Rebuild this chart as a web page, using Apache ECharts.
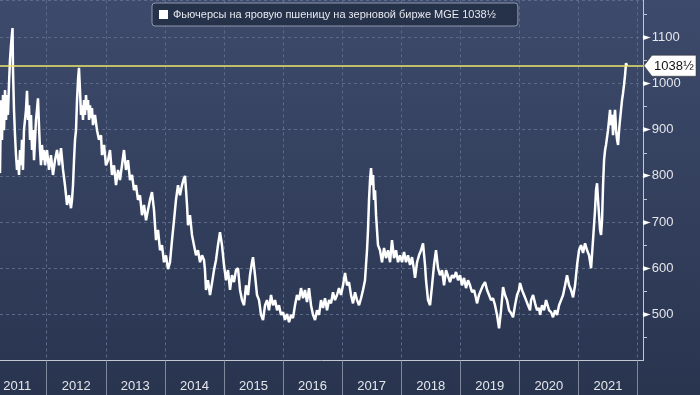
<!DOCTYPE html>
<html>
<head>
<meta charset="utf-8">
<script src="https://cdn.jsdelivr.net/npm/echarts@6/dist/echarts.min.js"></script>
<style>
html,body{margin:0;padding:0;background:#2a3652;}
#chart{width:700px;height:395px;}
</style>
</head>
<body>
<div id="chart"></div>
<script>
// Spring wheat futures (MGE), decimal year -> price (cents/bu)
const dates = [
 2011.209,2011.226,2011.243,2011.260,2011.277,2011.294,2011.311,2011.328,2011.344,2011.361,2011.378,2011.395,2011.421,2011.429,2011.446,2011.463,2011.480,2011.497,2011.514,2011.531,2011.548,2011.565,2011.581,2011.598,2011.615,2011.649,2011.666,2011.683,2011.700,2011.717,2011.734,2011.751,2011.768,2011.785,2011.802,2011.818,2011.835,2011.852,2011.869,2011.886,2011.903,2011.920,2011.937,2011.954,2011.971,
 2012.005,2012.039,2012.072,2012.106,2012.140,2012.174,2012.208,2012.242,2012.276,2012.309,2012.343,2012.377,2012.411,2012.428,2012.445,2012.462,2012.479,2012.496,2012.513,2012.530,2012.546,2012.563,2012.580,2012.597,2012.614,2012.631,2012.648,2012.665,2012.682,2012.699,2012.716,2012.733,2012.749,2012.766,2012.783,2012.817,2012.851,2012.885,2012.919,2012.936,2012.970,
 2013.003,2013.037,2013.071,2013.105,2013.139,2013.173,2013.207,2013.240,2013.274,2013.308,2013.342,2013.376,2013.410,2013.444,2013.477,2013.511,2013.545,2013.579,2013.613,2013.647,2013.681,2013.714,2013.748,2013.782,2013.816,2013.850,2013.884,2013.918,2013.951,2013.985,
 2014.019,2014.053,2014.087,2014.121,2014.155,2014.188,2014.222,2014.256,2014.290,2014.324,2014.341,2014.358,2014.375,2014.392,2014.425,2014.459,2014.493,2014.527,2014.561,2014.595,2014.629,2014.662,2014.679,2014.696,2014.730,2014.764,2014.798,2014.832,2014.866,2014.899,2014.933,2014.967,
 2015.001,2015.035,2015.069,2015.103,2015.136,2015.170,2015.204,2015.238,2015.272,2015.306,2015.340,2015.374,2015.408,2015.441,2015.475,2015.492,2015.526,2015.560,2015.594,2015.628,2015.662,2015.696,2015.729,2015.763,2015.797,2015.831,2015.865,2015.899,2015.932,2015.966,
 2016.000,2016.034,2016.068,2016.102,2016.136,2016.169,2016.203,2016.237,2016.271,2016.305,2016.339,2016.372,2016.406,2016.440,2016.474,2016.508,2016.542,2016.576,2016.610,2016.643,2016.677,2016.711,2016.745,2016.779,2016.813,2016.846,2016.880,2016.914,2016.948,2016.982,
 2017.016,2017.050,2017.084,2017.117,2017.151,2017.185,2017.219,2017.253,2017.287,2017.321,2017.354,2017.388,2017.405,2017.422,2017.439,2017.456,2017.473,2017.490,2017.507,2017.524,2017.541,2017.558,2017.575,2017.591,2017.608,2017.642,2017.676,2017.710,2017.744,2017.778,2017.812,2017.845,2017.879,2017.913,2017.947,2017.981,
 2018.015,2018.049,2018.082,2018.116,2018.150,2018.184,2018.218,2018.235,2018.269,2018.302,2018.336,2018.370,2018.404,2018.421,2018.455,2018.489,2018.523,2018.556,2018.590,2018.624,2018.658,2018.692,2018.726,2018.760,2018.793,2018.827,2018.861,2018.895,2018.929,2018.963,2018.997,
 2019.030,2019.064,2019.098,2019.132,2019.166,2019.200,2019.234,2019.267,2019.284,2019.318,2019.352,2019.386,2019.420,2019.454,2019.488,2019.521,2019.555,2019.589,2019.623,2019.657,2019.691,2019.725,2019.758,2019.792,2019.826,2019.860,2019.894,2019.928,2019.962,2019.995,
 2020.012,2020.046,2020.080,2020.114,2020.148,2020.182,2020.199,2020.233,2020.267,2020.300,2020.334,2020.351,2020.385,2020.419,2020.453,2020.470,2020.504,2020.538,2020.571,2020.605,2020.639,2020.673,2020.707,2020.741,2020.775,2020.808,2020.842,2020.876,2020.910,2020.944,2020.978,
 2021.011,2021.045,2021.079,2021.113,2021.147,2021.181,2021.215,2021.248,2021.282,2021.299,2021.316,2021.333,2021.350,2021.367,2021.384,2021.401,2021.418,2021.435,2021.452,2021.468,2021.485,2021.502,2021.519,2021.536,2021.553,2021.570,2021.587,2021.604,2021.621,2021.638,2021.655,2021.672,2021.689,2021.705,2021.722,2021.739,2021.756,2021.773,2021.790,2021.807,2021.824
];
const prices = [
 806,964,878,975,899,986,921,975,932,997,1051,1083,1120,1029,943,888,845,813,834,802,856,823,878,813,899,943,984,921,953,878,932,856,899,834,878,921,943,968,910,856,823,867,834,856,823,
 856,813,845,802,834,856,823,860,813,780,737,758,730,748,780,834,878,899,964,1008,1034,986,932,953,921,964,932,975,943,964,921,953,925,947,910,932,899,878,888,845,867,
 823,834,856,802,823,780,813,791,823,856,813,834,791,802,769,780,748,758,715,737,704,726,748,765,726,661,683,639,650,613,
 628,598,613,661,704,748,780,758,780,795,800,769,737,693,715,672,650,628,639,613,628,618,596,553,574,542,568,596,618,650,678,650,
 607,574,596,553,585,570,596,600,553,531,520,563,542,585,613,624,585,542,531,499,488,520,531,509,542,520,531,509,520,499,
 505,488,501,483,499,492,520,542,531,557,535,553,527,557,520,499,488,509,499,531,514,535,509,531,524,548,531,542,557,542,
 563,590,563,570,542,524,548,531,520,535,553,574,607,639,683,748,791,817,780,802,748,769,715,683,650,639,613,644,622,639,613,661,622,639,613,628,
 613,635,613,628,607,624,596,579,613,628,639,654,607,574,531,520,563,607,639,600,585,596,563,596,592,570,585,579,592,574,585,
 563,579,557,574,563,548,553,535,524,542,553,563,570,553,542,531,535,520,499,470,509,559,542,531,509,503,494,520,542,553,
 568,553,542,531,520,509,531,542,524,509,514,499,520,509,531,527,509,505,494,509,499,520,531,542,563,585,563,553,537,563,607,
 639,650,633,654,639,628,600,661,726,769,784,748,715,683,672,704,780,834,856,867,871,899,921,943,910,932,888,921,943,899,878,867,899,921,943,964,979,997,1018,1044,1038.5
];
const lastPrice = 1038.5;
const lastLabel = '1038½';
const seriesName = 'Фьючерсы на яровую пшеницу на зерновой бирже MGE 1038½';
const yearTicks = [2012,2013,2014,2015,2016,2017,2018,2019,2020,2021,2022];
const yearLabels = [2011,2012,2013,2014,2015,2016,2017,2018,2019,2020,2021];
const xMin = 2011.209, xMax = 2022.094;
const yMin = 400, yMax = 1180;

const data = dates.map((d, i) => [d, prices[i]]);
const chart = echarts.init(document.getElementById('chart'), null, {renderer: 'canvas'});
const font = 'Liberation Sans, Arial, sans-serif';
chart.setOption({
  animation: false,
  backgroundColor: new echarts.graphic.LinearGradient(0, 0, 0, 1, [
    {offset: 0, color: '#3d4a6b'},
    {offset: 1, color: '#29354f'}
  ]),
  textStyle: {fontFamily: font},
  grid: {left: 0, right: 57, top: 0.4, bottom: 34.4, containLabel: false},
  legend: {
    show: true,
    left: 152, top: 3,
    padding: [6, 22, 6, 7],
    backgroundColor: '#26314a',
    borderColor: '#8f98ab',
    borderWidth: 1,
    borderRadius: 3,
    icon: 'rect',
    itemWidth: 9, itemHeight: 9, itemGap: 5,
    textStyle: {color: '#e6e8ee', fontSize: 11, fontFamily: font},
    data: [seriesName]
  },
  xAxis: {
    type: 'value',
    min: xMin, max: xMax,
    axisLine: {show: true, lineStyle: {color: '#c3c7d1', width: 1}},
    axisTick: {show: true, customValues: yearTicks, length: 35, lineStyle: {color: '#7f889c'}},
    axisLabel: {
      customValues: yearLabels.map(y => y + 0.5),
      formatter: v => String(Math.floor(v)),
      color: '#e4e6ec', fontSize: 13, margin: 19, fontFamily: font
    },
    splitLine: {show: true, lineStyle: {color: '#5b6a89', type: [3, 3], width: 1}}
  },
  yAxis: {
    type: 'value',
    position: 'right',
    min: yMin, max: yMax, interval: 100,
    axisLine: {show: true, lineStyle: {color: '#c3c7d1', width: 1}},
    axisTick: {show: false},
    minorTick: {show: true, splitNumber: 2, length: 4, lineStyle: {color: '#c3c7d1'}},
    minorSplitLine: {show: false},
    axisLabel: {
      margin: 0,
      showMaxLabel: false,
      showMinLabel: false,
      formatter: v => (v % 100 === 0 && v <= 1100) ? '{t|►}{n|' + v + '}' : '',
      rich: {
        t: {color: '#ffffff', fontSize: 10, padding: [0, 1, 0, 0], fontFamily: 'DejaVu Sans'},
        n: {color: '#e4e6ec', fontSize: 13, fontFamily: font}
      }
    },
    splitLine: {show: true, lineStyle: {color: '#5b6a89', type: [3, 3], width: 1}}
  },
  series: [{
    name: seriesName,
    type: 'line',
    data: data,
    showSymbol: false,
    symbol: 'none',
    itemStyle: {color: '#ffffff'},
    lineStyle: {color: '#ffffff', width: 2.5},
    markLine: {
      silent: true,
      symbol: ['none', 'none'],
      label: {show: false},
      lineStyle: {color: '#ece66c', width: 1.5, type: 'solid'},
      data: [{yAxis: lastPrice}]
    },
    markPoint: {
      silent: true,
      symbol: 'path://M0,10 L8,0 L52,0 L52,20 L8,20 Z',
      symbolSize: [52, 21],
      symbolOffset: [27, 0],
      itemStyle: {color: '#ffffff', borderColor: '#333', borderWidth: 0.5},
      label: {show: true, color: '#111111', fontSize: 13, offset: [4, 1], fontFamily: font, formatter: lastLabel},
      data: [{coord: [xMax, lastPrice]}]
    }
  }]
});
</script>
</body>
</html>
